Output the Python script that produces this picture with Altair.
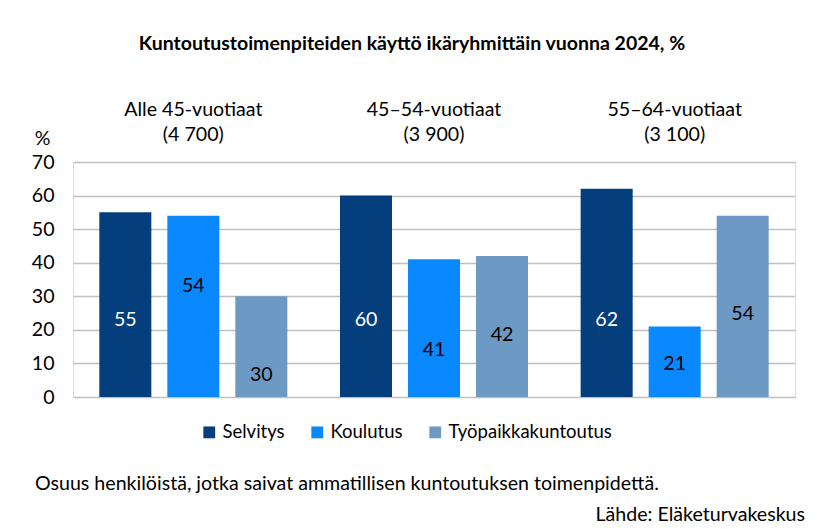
import altair as alt
import pandas as pd

groups = ["Alle 45-vuotiaat", "45–54-vuotiaat", "55–64-vuotiaat"]
group_counts = ["(4 700)", "(3 900)", "(3 100)"]
series = ["Selvitys", "Koulutus", "Työpaikkakuntoutus"]
selvitys = [55, 60, 62]
koulutus = [54, 41, 21]
tyopaikka = [30, 42, 54]
# where the value labels sit (in % units), as placed in the original
label_at = [[22.8, 33, 6.5], [22.8, 14, 18.5], [22.8, 9.8, 24.8]]
colors = ["#053E7C", "#0A88FF", "#6D9AC4"]
label_colors = ["#FFFFFF", "#000000", "#000000"]
y_ticks = [0, 10, 20, 30, 40, 50, 60, 70]

rows = []
for gi, g in enumerate(groups):
    for si, (s, vals) in enumerate(zip(series, [selvitys, koulutus, tyopaikka])):
        rows.append({"group": g, "series": s, "value": vals[gi],
                     "label_y": label_at[gi][si], "lcol": label_colors[si]})
df = pd.DataFrame(rows)
hdr = pd.DataFrame({"group": groups, "count": group_counts})

FONT = "Lato"
FS = 19.6

xenc = alt.X("group:N", sort=groups, axis=None,
             scale=alt.Scale(paddingInner=0, paddingOuter=0))
xoff = alt.XOffset("series:N", sort=series,
                   scale=alt.Scale(paddingInner=0.235, paddingOuter=0.387))
yscale = alt.Scale(domain=[0, 70])
yaxis = alt.Axis(values=y_ticks, labelOverlap=False, title="%", titleAngle=0,
                 titleX=-31, titleY=-24, titleAlign="center",
                 titleBaseline="middle", titleFont=FONT,
                 titleFontSize=FS, titleFontWeight="normal",
                 titleColor="#000", labelFont=FONT, labelFontSize=FS,
                 labelColor="#000", labelPadding=19, domain=False,
                 ticks=False, gridColor="#BFBFBF", gridWidth=1.3)

bars = alt.Chart(df).mark_bar().encode(
    x=xenc, xOffset=xoff,
    y=alt.Y("value:Q", scale=yscale, axis=yaxis, title="%"),
    color=alt.Color("series:N", sort=series,
                    scale=alt.Scale(domain=series, range=colors),
                    legend=alt.Legend(title=None, orient="none", direction="horizontal",
                                      legendX=127, legendY=261, symbolType="square",
                                      symbolSize=140, symbolStrokeWidth=0,
                                      labelFont=FONT, labelFontSize=18.5,
                                      labelColor="#000", labelOffset=4,
                                      labelLimit=400, columnPadding=23)),
)

labels = alt.Chart(df).mark_text(font=FONT, fontSize=FS, baseline="middle").encode(
    x=xenc, xOffset=xoff,
    y=alt.Y("label_y:Q", scale=yscale, axis=yaxis, title="%"),
    text=alt.Text("value:Q"),
    color=alt.Color("lcol:N", scale=None),
)

head1 = alt.Chart(hdr).mark_text(font=FONT, fontSize=FS, baseline="middle").encode(
    x=xenc, y=alt.value(-52), text="group:N")
head2 = alt.Chart(hdr).mark_text(font=FONT, fontSize=FS, baseline="middle").encode(
    x=xenc, y=alt.value(-27), text="count:N")

one = pd.DataFrame({"t": [
    "Kuntoutustoimenpiteiden käyttö ikäryhmittäin vuonna 2024, %",
    "Osuus henkilöistä, jotka saivat ammatillisen kuntoutuksen toimenpidettä.",
    "Lähde: Eläketurvakeskus"]})

title = alt.Chart(one).transform_filter("datum.t[0] == 'K'").mark_text(
    font=FONT, fontSize=19.5, fontWeight="bold", baseline="middle", align="center"
).encode(x=alt.value(339), y=alt.value(-118), text="t:N")
note = alt.Chart(one).transform_filter("datum.t[0] == 'O'").mark_text(
    font=FONT, fontSize=FS, baseline="middle", align="left"
).encode(x=alt.value(-38), y=alt.value(322), text="t:N")
src = alt.Chart(one).transform_filter("datum.t[0] == 'L'").mark_text(
    font=FONT, fontSize=FS, baseline="middle", align="right"
).encode(x=alt.value(732), y=alt.value(353), text="t:N")

chart = alt.layer(bars, labels, head1, head2, title, note, src).resolve_scale(
    color="independent"
).properties(
    width=722, height=235,
    autosize=alt.AutoSizeParams(type="none"),
    padding={"left": 65, "top": 154, "right": 17, "bottom": 140},
).configure_view(strokeWidth=0, strokeOpacity=0).configure(background="#FFFFFF")

chart.save("out.html", embed_options={"renderer": "svg", "actions": False})
